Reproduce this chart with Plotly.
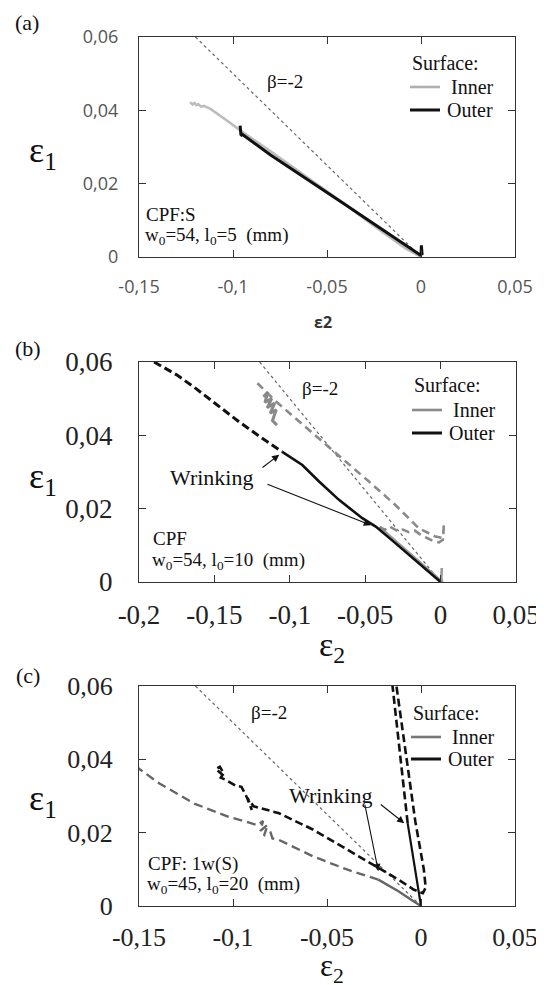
import plotly.graph_objects as go

# The page body has an 8px margin, so the figure is drawn 8px in from the window corner.
OFF = 8
W, H = 544 - OFF, 985 - OFF

# ---------------- data ----------------
beta_x = [-0.12, 0.0]
beta_y = [0.06, 0.0]

# panel (a)
inner_a_x = [-0.1228, -0.1215, -0.1205, -0.1195, -0.1185, -0.1170, -0.1155, -0.1120, -0.1040, -0.0958,
             -0.0800, -0.0600, -0.0400, -0.0200, -0.0080, 0.0]
inner_a_y = [0.0422, 0.0416, 0.0420, 0.0414, 0.0417, 0.0410, 0.0412, 0.0404, 0.0375, 0.0344,
             0.0288, 0.0216, 0.0142, 0.0066, 0.0023, 0.0]
outer_a_x = [-0.0962, -0.0958, -0.0950, -0.0955, -0.0800, -0.0600, -0.0400, -0.0200, -0.0050, 0.0, 0.0002, 0.0006]
outer_a_y = [0.0358, 0.0334, 0.0330, 0.0336, 0.0278, 0.0211, 0.0142, 0.0073, 0.0020, 0.0004, 0.0032, 0.0005]

# panel (b)
outer_b_dash_x = [-0.190, -0.175, -0.1624, -0.148, -0.1337, -0.120, -0.105]
outer_b_dash_y = [0.0600, 0.0565, 0.0528, 0.0483, 0.0437, 0.0397, 0.0355]
outer_b_solid_x = [-0.105, -0.0917, -0.0806, -0.0674, -0.0519, -0.043, -0.030, -0.015, -0.005, 0.0]
outer_b_solid_y = [0.0355, 0.0319, 0.0274, 0.0224, 0.0174, 0.0151, 0.0106, 0.0053, 0.0016, 0.0]
inner_b_solid_x = [0.0008, 0.0005, 0.0012, -0.005, -0.015, -0.025, -0.035, -0.0405]
inner_b_solid_y = [0.0038, 0.0008, 0.0, 0.0022, 0.0058, 0.0094, 0.0128, 0.0150]
inner_b_dash_x = [-0.0405, -0.037, -0.034, -0.031, -0.028, -0.025, -0.021, -0.017, -0.013, -0.009,
                  -0.005, -0.001, 0.0015, 0.0022, 0.0018, 0.0012, -0.004, -0.0143, -0.030, -0.0475,
                  -0.065, -0.084, -0.100, -0.110, -0.116, -0.1215]
inner_b_dash_y = [0.0150, 0.0142, 0.0152, 0.0145, 0.0138, 0.0143, 0.0136, 0.0140, 0.0128, 0.0120,
                  0.0112, 0.0108, 0.0115, 0.0160, 0.0125, 0.0120, 0.0125, 0.0146, 0.0210, 0.0274,
                  0.0336, 0.0401, 0.0458, 0.0495, 0.0520, 0.0542]
inner_b_clump_x = [-0.1175, -0.1145, -0.1165, -0.1120, -0.1150, -0.1100, -0.1130, -0.1090, -0.1115, -0.1085]
inner_b_clump_y = [0.0505, 0.0518, 0.0490, 0.0500, 0.0475, 0.0488, 0.0460, 0.0470, 0.0440, 0.0428]

# panel (c)
inner_c_dash_x = [-0.152, -0.1391, -0.1209, -0.1027, -0.0918, -0.0870, -0.0840, -0.0855, -0.0815, -0.0835,
                  -0.0800, -0.0790, -0.0755, -0.0573, -0.0391, -0.0227]
inner_c_dash_y = [0.0382, 0.0334, 0.0280, 0.0244, 0.0228, 0.0220, 0.0232, 0.0205, 0.0222, 0.0192,
                  0.0200, 0.0184, 0.0180, 0.0135, 0.0099, 0.0072]
inner_c_solid_x = [-0.0227, -0.012, -0.004, 0.0]
inner_c_solid_y = [0.0072, 0.0040, 0.0013, 0.0]
outer_c_dash_x = [-0.1050, -0.1075, -0.1091, -0.1070, -0.1050, -0.1065, -0.1035, -0.0985, -0.0955, -0.0935,
                  -0.0915, -0.0900, -0.0925, -0.0890, -0.0755, -0.0573, -0.0391, -0.0227, -0.0120, -0.0040,
                  0.0010, 0.0025, 0.0015, -0.0030, -0.0075, -0.0110, -0.0128, -0.0140]
outer_c_dash_y = [0.0355, 0.0368, 0.0374, 0.0380, 0.0362, 0.0350, 0.0343, 0.0328, 0.0325, 0.0305,
                  0.0285, 0.0262, 0.0295, 0.0272, 0.0253, 0.0208, 0.0153, 0.0104, 0.0072, 0.0045,
                  0.0035, 0.0050, 0.0100, 0.0230, 0.0390, 0.0520, 0.0590, 0.0640]
outer_c_dashA_x = [-0.0071, -0.0110, -0.0151, -0.0160]
outer_c_dashA_y = [0.0226, 0.0400, 0.0590, 0.0640]
outer_c_solid_x = [0.0, -0.0035, -0.0071]
outer_c_solid_y = [0.0, 0.0112, 0.0226]

# ticks
x_ticks_ac = [-0.15, -0.1, -0.05, 0.0, 0.05]
x_labels_ac = ["-0,15", "-0,1", "-0,05", "0", "0,05"]
x_ticks_b = [-0.2, -0.15, -0.1, -0.05, 0.0, 0.05]
x_labels_b = ["-0,2", "-0,15", "-0,1", "-0,05", "0", "0,05"]
y_ticks = [0.0, 0.02, 0.04, 0.06]
y_labels = ["0", "0,02", "0,04", "0,06"]

# ---------------- layout helpers (window pixels -> paper) ----------------
def px_x(p):
    return (p - OFF) / W

def px_y(p):
    return 1 - (p - OFF) / H

SERIF = "Liberation Serif"
SANS = "Open Sans"

panels = [
    ("x", "y", (139, 515), (37, 257), [-0.15, 0.05]),
    ("x2", "y2", (139, 516), (362, 582), [-0.2, 0.05]),
    ("x3", "y3", (139, 515), (686, 906), [-0.15, 0.05]),
]

fig = go.Figure()

def add_line(xs, ys, panel, color, width, dash="solid"):
    xa, ya = panels[panel][0], panels[panel][1]
    fig.add_trace(go.Scatter(x=xs, y=ys, mode="lines", xaxis=xa, yaxis=ya,
                             line=dict(color=color, width=width, dash=dash),
                             showlegend=False, hoverinfo="skip"))

BETA_C = "#666666"
add_line(beta_x, beta_y, 0, BETA_C, 1.2, "dot")
add_line(inner_a_x, inner_a_y, 0, "#bcbcbc", 2.6)
add_line(outer_a_x, outer_a_y, 0, "#111111", 3)
add_line(beta_x, beta_y, 1, BETA_C, 1.2, "dot")
add_line(inner_b_solid_x, inner_b_solid_y, 1, "#9a9a9a", 2.6)
add_line(inner_b_dash_x, inner_b_dash_y, 1, "#8a8a8a", 2.6, "8px,5px")
add_line(inner_b_clump_x, inner_b_clump_y, 1, "#8a8a8a", 3)
add_line(outer_b_dash_x, outer_b_dash_y, 1, "#111111", 3, "8px,4px")
add_line(outer_b_solid_x, outer_b_solid_y, 1, "#111111", 2.6)
add_line(beta_x, beta_y, 2, BETA_C, 1.2, "dot")
add_line(inner_c_dash_x, inner_c_dash_y, 2, "#666666", 2.4, "9px,5px")
add_line(inner_c_solid_x, inner_c_solid_y, 2, "#666666", 2.4)
add_line(outer_c_dash_x, outer_c_dash_y, 2, "#111111", 2.6, "8px,4px")
add_line(outer_c_dashA_x, outer_c_dashA_y, 2, "#111111", 2.6, "8px,4px")
add_line(outer_c_solid_x, outer_c_solid_y, 2, "#111111", 2.2)

layout = dict(width=W, height=H, autosize=False,
              margin=dict(l=0, r=0, t=0, b=0, pad=0, autoexpand=False),
              paper_bgcolor="white", plot_bgcolor="white",
              showlegend=False)

for i, (xa, ya, (x0, x1), (y0, y1), xr) in enumerate(panels):
    xkey = "xaxis" if xa == "x" else "xaxis" + xa[1:]
    ykey = "yaxis" if ya == "y" else "yaxis" + ya[1:]
    if i == 0:
        tfont = dict(family=SANS, size=18, color="#555555")
        xtv, xtt = x_ticks_ac, x_labels_ac
        xso, yso = 13, 16
    else:
        tfont = dict(family=SERIF, size=27 if i == 1 else 26, color="#222222")
        xtv, xtt = (x_ticks_b, x_labels_b) if i == 1 else (x_ticks_ac, x_labels_ac)
        xso, yso = 8, 20
    common = dict(showgrid=False, zeroline=False, showline=True, linecolor="#333333", linewidth=1.3,
                  mirror="ticks", ticks="inside", ticklen=7, tickwidth=1.2, tickcolor="#333333",
                  tickfont=tfont, automargin=False)
    layout[xkey] = dict(domain=[px_x(x0), px_x(x1)], range=xr, anchor=ya,
                        tickvals=xtv, ticktext=xtt, ticklabelstandoff=xso, **common)
    layout[ykey] = dict(domain=[px_y(y1), px_y(y0)], range=[0, 0.06], anchor=xa,
                        tickvals=y_ticks, ticktext=y_labels, ticklabelstandoff=yso, **common)

fig.update_layout(**layout)

ann = []
shapes = []

def text_paper(txt, xp, yp, size, family=SERIF, color="#111111", xanchor="center", yanchor="middle"):
    ann.append(dict(text=txt, x=px_x(xp), y=px_y(yp), xref="paper", yref="paper", showarrow=False,
                    font=dict(family=family, size=size, color=color), xanchor=xanchor, yanchor=yanchor))

def text_data(txt, x, y, panel, size, xanchor="left", yanchor="middle"):
    ann.append(dict(text=txt, x=x, y=y, xref=panels[panel][0], yref=panels[panel][1], showarrow=False,
                    font=dict(family=SERIF, size=size, color="#111111"), xanchor=xanchor, yanchor=yanchor))

def arrow(panel, tx, ty, hx, hy):
    ann.append(dict(text="", x=hx, y=hy, ax=tx, ay=ty, xref=panels[panel][0], yref=panels[panel][1],
                    axref=panels[panel][0], ayref=panels[panel][1], showarrow=True,
                    arrowhead=2, arrowsize=1.3, arrowwidth=1.1, arrowcolor="#111111"))

text_paper("(a)", 27, 22, 22)
text_paper("(b)", 28, 349, 22)
text_paper("(c)", 28, 675, 22)

text_paper("ε<sub>1</sub>", 43, 153, 36)
text_paper("ε<sub>1</sub>", 43, 478, 36)
text_paper("ε<sub>1</sub>", 43, 800, 36)
text_paper("<b>ε2</b>", 323, 322, 16, family=SANS, color="#333333")
text_paper("ε<sub>2</sub>", 332, 647, 34)
text_paper("ε<sub>2</sub>", 332, 968, 31)

text_data("β=-2", -0.0725, 0.0478, 0, 19, xanchor="center")
text_data("β=-2", -0.080, 0.0528, 1, 19, xanchor="center")
text_data("β=-2", -0.0809, 0.0528, 2, 19, xanchor="center")

text_data("CPF:S", -0.1475, 0.0116, 0, 19)
text_data("w<sub>0</sub>=54, l<sub>0</sub>=5  (mm)", -0.1478, 0.0057, 0, 19)
text_data("CPF", -0.192, 0.0120, 1, 19)
text_data("w<sub>0</sub>=54, l<sub>0</sub>=10  (mm)", -0.193, 0.0057, 1, 19)
text_data("CPF: 1w(S)", -0.1464, 0.0115, 2, 19)
text_data("w<sub>0</sub>=45, l<sub>0</sub>=20  (mm)", -0.1466, 0.0057, 2, 19)

text_data("Wrinking", -0.1518, 0.0286, 1, 22, xanchor="center")
arrow(1, -0.1191, 0.0309, -0.107, 0.0347)
arrow(1, -0.1158, 0.0268, -0.0462, 0.0155)
text_data("Wrinking", -0.0479, 0.0302, 2, 22, xanchor="center")
arrow(2, -0.0300, 0.0280, -0.0227, 0.0095)
arrow(2, -0.0222, 0.0280, -0.0089, 0.0226)

legends = [
    (63, 87, 110, 410, "#b0b0b0"),
    (385, 410, 433, 412, "#8a8a8a"),
    (713, 737, 759, 411, "#777777"),
]
for ys, yi, yo, xl, gcol in legends:
    text_paper("Surface:", xl, ys, 20, xanchor="left")
    shapes.append(dict(type="line", xref="paper", yref="paper", x0=px_x(xl), x1=px_x(xl + 30),
                       y0=px_y(yi), y1=px_y(yi), line=dict(color=gcol, width=2.6)))
    text_paper("Inner", xl + 39, yi, 20, xanchor="left")
    shapes.append(dict(type="line", xref="paper", yref="paper", x0=px_x(xl), x1=px_x(xl + 30),
                       y0=px_y(yo), y1=px_y(yo), line=dict(color="#111111", width=3)))
    text_paper("Outer", xl + 35, yo, 20, xanchor="left")

fig.update_layout(annotations=ann, shapes=shapes)
fig.write_html("out.html")
